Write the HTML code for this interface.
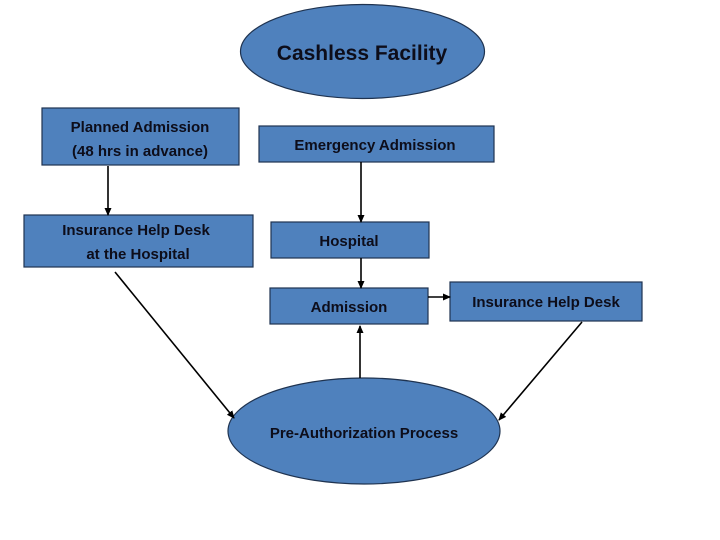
<!DOCTYPE html>
<html><head><meta charset="utf-8"><style>
html,body{margin:0;padding:0;background:#fff;}
svg{display:block}
text{font-family:"Liberation Sans",sans-serif;font-weight:bold;fill:#0d0d1a;text-anchor:middle}
</style></head><body>
<svg width="720" height="540" viewBox="0 0 720 540" xmlns="http://www.w3.org/2000/svg">
<defs><marker id="a" markerWidth="8" markerHeight="8" refX="7" refY="4" orient="auto" markerUnits="userSpaceOnUse"><path d="M0,0.5 L8,4 L0,7.5z" fill="#000"/></marker></defs>
<g fill="#4f81bd" stroke="#1f3350" stroke-width="1.2">
<ellipse cx="362.5" cy="51.5" rx="122" ry="47"/>
<rect x="42" y="108" width="197" height="57"/>
<rect x="259" y="126" width="235" height="36"/>
<rect x="24" y="215" width="229" height="52"/>
<rect x="271" y="222" width="158" height="36"/>
<rect x="270" y="288" width="158" height="36"/>
<rect x="450" y="282" width="192" height="39"/>
<ellipse cx="364" cy="431" rx="136" ry="53"/>
</g>
<g stroke="#000" stroke-width="1.6" marker-end="url(#a)">
<line x1="108" y1="166" x2="108" y2="215"/>
<line x1="361" y1="162" x2="361" y2="222"/>
<line x1="361" y1="258" x2="361" y2="288"/>
<line x1="428" y1="297" x2="450" y2="297"/>
<line x1="360" y1="378" x2="360" y2="326"/>
<line x1="115" y1="272" x2="234" y2="418"/>
<line x1="582" y1="322" x2="499" y2="420"/>
</g>
<text x="362" y="60" font-size="21">Cashless Facility</text>
<text x="140" y="132" font-size="15">Planned Admission</text>
<text x="140" y="156" font-size="15">(48 hrs in advance)</text>
<text x="375" y="150" font-size="15">Emergency Admission</text>
<text x="136" y="235" font-size="15">Insurance Help Desk</text>
<text x="138" y="259" font-size="15">at the Hospital</text>
<text x="349" y="246" font-size="15">Hospital</text>
<text x="349" y="312" font-size="15">Admission</text>
<text x="546" y="307" font-size="15">Insurance Help Desk</text>
<text x="364" y="438" font-size="15">Pre-Authorization Process</text>
</svg>
</body></html>
